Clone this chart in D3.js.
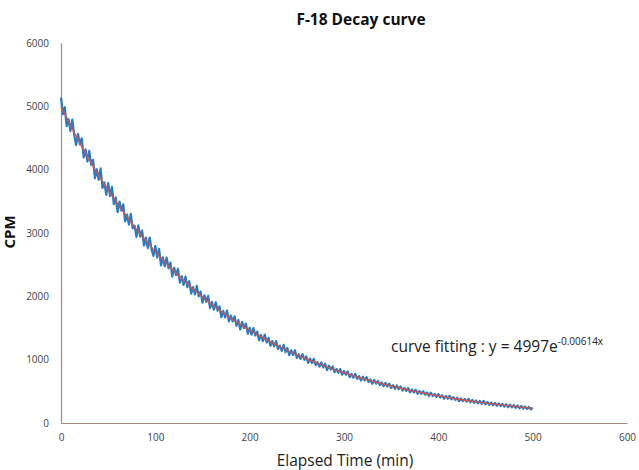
<!DOCTYPE html>
<html><head><meta charset="utf-8">
<script src="https://cdn.jsdelivr.net/npm/d3@7"></script>
<style>body{margin:0;background:#fff}svg{display:block}</style>
</head><body>
<svg id="c" width="639" height="470"></svg>
<script>
// Measured counts (CPM), one reading every 2 minutes from 0 to 500 min
const timeStep = 2;
const measuredCPM = [
5137,4876,4986,4686,4797,4609,4792,4545,4389,4564,4400,4496,4192,4320,4128,4297,4076,4156,3866,4007,
3839,4021,3714,3798,3602,3787,3582,3728,3454,3561,3328,3496,3354,3453,3182,3292,3132,3303,3074,3116,
2938,3121,2944,3037,2801,2926,2761,2926,2742,2638,2795,2612,2749,2487,2615,2474,2613,2442,2532,2312,
2452,2333,2434,2216,2318,2180,2312,2145,2239,2042,2146,2031,2165,2000,2075,1901,2016,1912,2008,1815,
1911,1789,1906,1774,1842,1670,1769,1667,1776,1606,1695,1605,1685,1535,1626,1477,1598,1499,1570,1412,
1504,1396,1498,1381,1444,1307,1390,1293,1397,1271,1345,1219,1293,1208,1293,1168,1223,1138,1234,1119,
1185,1071,1147,1074,1150,1027,1084,1011,1088,995,1053,950,1018,946,1014,912,961,889,958,877,
936,835,904,843,893,802,852,792,852,762,822,763,813,724,774,715,776,697,738,669,
731,672,724,645,687,619,681,623,665,597,640,582,635,577,620,553,596,539,592,535,
578,511,555,508,552,485,529,483,527,461,505,459,503,447,482,426,480,425,459,414,
459,403,438,383,428,383,428,373,409,364,399,345,390,345,381,337,382,328,364,319,
355,311,347,303,349,295,332,288,324,280,317,273,310,266,303,259,296,252,289,246,
283,239,276,233,270,227,259,221,253,215,242];
// Fitted curve values read at 20-minute intervals
const fitTimes = [0,20,40,60,80,100,120,140,160,180,200,220,240,260,280,300,320,340,360,380,400,420,440,460,480,500];
const fitCPM = [4997,4420,3909,3458,3058,2705,2392,2116,1871,1655,1464,1295,1145,1013,896,792,701,620,548,485,429,379,335,297,263,232];
const xTicks = [0,100,200,300,400,500,600];
const yTicks = [0,1000,2000,3000,4000,5000,6000];

const svg = d3.select("#c");
const x = d3.scaleLinear().domain([0,600]).range([61,627]);
const y = d3.scaleLinear().domain([0,6000]).range([423,43]);
const axisColor = "#a8887a";
const font = "'Open Sans','Liberation Sans',Arial,sans-serif";

// axes
const xa = svg.append("g").attr("transform","translate(0,423)")
  .call(d3.axisBottom(x).tickValues(xTicks).tickSize(0).tickPadding(11).tickFormat(d3.format("d")));
const ya = svg.append("g").attr("transform","translate(61,0)")
  .call(d3.axisLeft(y).tickValues(yTicks).tickSize(0).tickPadding(12).tickFormat(d3.format("d")));
[xa,ya].forEach(a=>{
  a.select(".domain").attr("stroke",axisColor).attr("stroke-width",1.2);
  a.selectAll("text").attr("font-family",font).attr("font-size",10).attr("fill","#444");
});

// data
const data = measuredCPM.map((v,i)=>({t:i*timeStep,v}));
svg.append("path").datum(data)
  .attr("fill","none").attr("stroke","#2a7bbf").attr("stroke-width",2.2).attr("stroke-linejoin","round")
  .attr("d",d3.line().x(d=>x(d.t)).y(d=>y(d.v)));

const fit = fitTimes.map((t,i)=>({t,v:fitCPM[i]}));
svg.append("path").datum(fit)
  .attr("fill","none").attr("stroke","#d9534a").attr("stroke-width",1.3)
  .attr("d",d3.line().curve(d3.curveNatural).x(d=>x(d.t)).y(d=>y(d.v)));

// text
svg.append("text").attr("x",361).attr("y",25).attr("text-anchor","middle")
  .attr("font-family",font).attr("font-weight","bold").attr("font-size",15.5).attr("fill","#111")
  .text("F-18 Decay curve");
svg.append("text").attr("transform","translate(15,232) rotate(-90)").attr("text-anchor","middle")
  .attr("font-family",font).attr("font-weight","bold").attr("font-size",15).attr("fill","#111")
  .text("CPM");
svg.append("text").attr("x",345).attr("y",466).attr("text-anchor","middle")
  .attr("font-family",font).attr("font-size",15.5).attr("fill","#222")
  .text("Elapsed Time (min)");
const ann = svg.append("text").attr("x",391).attr("y",352)
  .attr("font-family",font).attr("font-size",15.5).attr("fill","#222");
ann.append("tspan").text("curve fitting : y = 4997e");
ann.append("tspan").attr("dy",-7).attr("font-size",10).text("-0.00614x");
</script>
</body></html>
